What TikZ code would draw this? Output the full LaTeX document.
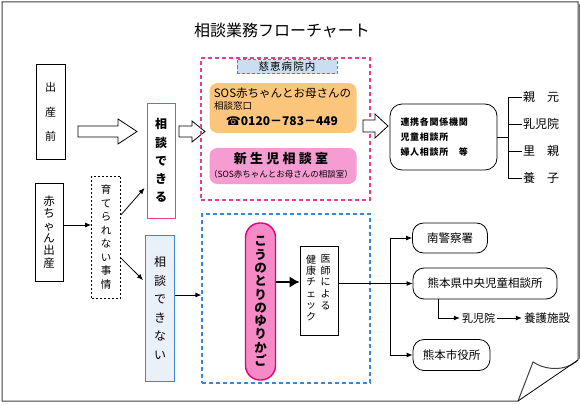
\documentclass[tikz,border=0pt]{standalone}
\usepackage{fontspec}
\setmainfont{Noto Sans CJK JP}
\newfontfamily\telfont{DejaVu Sans}
\usetikzlibrary{arrows.meta}

\definecolor{pinkline}{HTML}{EA3D92}
\definecolor{deeppink}{HTML}{E2007E}
\definecolor{blueline}{HTML}{3A87D6}
\definecolor{bluefill}{HTML}{EAF0F8}
\definecolor{labelfill}{HTML}{C9DEF2}
\definecolor{orangefill}{HTML}{FBC57C}
\definecolor{pinkfill}{HTML}{F59CD3}
\definecolor{capsulefill}{HTML}{F68AC6}

\newcommand{\fsz}[2]{\fontsize{#1}{#2}\selectfont}

\begin{document}
\begin{tikzpicture}[x=1pt,y=-1pt,
  >={Latex[length=6pt,width=5pt]},
  box/.style={draw=black, line width=0.8pt, inner sep=0pt},
  tate/.style={align=center, inner sep=0pt},
  rbox/.style={draw=black, line width=0.8pt, rounded corners=11pt, inner sep=0pt},
  hollow/.style={draw=black, line width=0.8pt, fill=white},
  pinkdash/.style={draw=pinkline, line width=1.2pt, dash pattern=on 4pt off 3pt, inner sep=0pt},
  bluedash/.style={draw=blueline, line width=1.2pt, dash pattern=on 4pt off 3pt, inner sep=0pt}]
\useasboundingbox (0,0) rectangle (580,404);

% page with curled corner
\draw[line width=1pt, draw=black!75] (2,2) -- (578,2) -- (578,360)
  .. controls (565,372) and (545,370) .. (533,362) -- (518,401) -- (2,401) -- cycle;
\draw[line width=0.8pt] (578,360) -- (518,401);
\draw[line width=1pt, draw=black!55] (579.5,4) -- (579.5,359);

\node (title) at (282,30) {\fsz{16}{18}相談業務フローチャート};

% before birth
\node[box, tate, minimum width=29, minimum height=95, font=\fsz{11}{24.5}] (sanzen) at (50.5,112) {出\\産\\前};
\draw[hollow] (78,126) -- (118,126) -- (118,119) -- (137,131.5) -- (118,144) -- (118,137) -- (78,137) -- cycle;
\node[box, tate, draw=pinkline, line width=1pt, minimum width=28, minimum height=115, font=\bfseries\fsz{12}{18.2}] (dekiru) at (161,160.5) {相\\談\\で\\き\\る};
\draw[hollow] (179,126) -- (192,126) -- (192,121) -- (205,131.5) -- (192,142) -- (192,137) -- (179,137) -- cycle;

% jikei hospital
\node[pinkdash, minimum width=169, minimum height=142] (jikei) at (285.5,129) {};
\node[draw=blueline, line width=0.9pt, dash pattern=on 3pt off 2pt, fill=labelfill, minimum width=100, minimum height=14, inner sep=0pt, font=\fsz{10.5}{12}\addfontfeature{LetterSpace=10}] (jikeilabel) at (287,66.5) {慈恵病院内};
\node[fill=orangefill, rounded corners=8pt, minimum width=147, minimum height=50] (sos) at (283,108) {};
\node[inner sep=0pt, font=\fsz{11.5}{14}] (sostitle) at (282.5,93) {SOS赤ちゃんとお母さんの};
\node[inner sep=0pt, anchor=west, font=\fsz{9.5}{11}] (madoguchi) at (214,105.5) {相談窓口};
\node[inner sep=0pt, font=\bfseries\fsz{12}{14}] (tel) at (282,121) {{\telfont\mdseries ☎}0120－783－449};
\node[fill=pinkfill, rounded corners=8pt, minimum width=147, minimum height=36] (shinsei) at (283,166) {};
\node[inner sep=0pt, font=\bfseries\fsz{13}{15}\addfontfeature{LetterSpace=25}] (shinseititle) at (281,158.5) {新生児相談室};
\node[inner sep=0pt, font=\fsz{8.5}{10}] (shinseisub) at (281,174) {（SOS赤ちゃんとお母さんの相談室）};
\draw[hollow] (363,120) -- (375,120) -- (375,114) -- (388,126) -- (375,138) -- (375,132) -- (363,132) -- cycle;

% related agencies
\node[rbox, rounded corners=12pt, minimum width=107, minimum height=66, text width=86, align=left, font=\bfseries\fsz{9}{15}\addfontfeature{LetterSpace=8}] (renkei) at (443.5,137) {連携各関係機関\\児童相談所\\婦人相談所　等};
\foreach \name/\txt/\y in {oya/親　元/97, nyuujiin/乳児院/124, satooya/里　親/151, youshi/養　子/178}
  \node[anchor=west, inner sep=1pt, font=\fsz{12}{14}] (\name) at (522,\y) {\txt};
\coordinate (rbus) at (508,137);
\draw[line width=0.8pt] (renkei.east) -- (rbus |- renkei.east);
\draw[line width=0.8pt] (rbus |- oya.west) -- (rbus |- youshi.west);
\foreach \name in {oya, nyuujiin, satooya, youshi}
  \draw[line width=0.8pt] (rbus |- \name.west) -- (\name.west);

% after birth
\node[box, tate, minimum width=28, minimum height=98, font=\fsz{11.5}{12.3}] (shussan) at (49,232) {赤\\ち\\ゃ\\ん\\出\\産};
\node[box, tate, dash pattern=on 2pt off 2pt, line width=0.7pt, minimum width=29, minimum height=122, font=\fsz{10.5}{13.5}] (jijou) at (106,237) {育\\て\\ら\\れ\\な\\い\\事\\情};
\draw[->, line width=0.8pt] ([yshift=7pt]shussan.east) -- ([yshift=7pt]shussan.east -| jijou.west);
\draw[->, line width=0.8pt] ([yshift=22pt]jijou.east) -- ([shift={(-2pt,-27.5pt)}]dekiru.west);
\node[box, tate, draw=blueline, fill=bluefill, line width=1pt, minimum width=29, minimum height=146, font=\fsz{12}{18.6}] (dekinai) at (160,308) {相\\談\\で\\き\\な\\い};
\draw[->, line width=0.8pt] ([yshift=-21pt]jijou.east) -- ([shift={(-2pt,28pt)}]dekinai.west);
\node[bluedash, minimum width=168, minimum height=169] (kounotori) at (286,298.5) {};
\draw[->, line width=0.8pt] ([yshift=13pt]dekinai.east) -- ([yshift=13pt]dekinai.east -| kounotori.west);

% baby hatch
\node[tate, draw=deeppink, fill=capsulefill, line width=1.4pt, rounded corners=14.5pt, minimum width=30, minimum height=157, font=\bfseries\fsz{12.5}{13.3}] (yurikago) at (260.5,301.5) {こ\\う\\の\\と\\り\\の\\ゆ\\り\\か\\ご};
\node[box, minimum width=38, minimum height=89] (check) at (319,290.5) {};
\node[tate, anchor=north, font=\fsz{10}{11.7}] (ishi) at (325.5,254.5) {医\\師\\に\\よ\\る};
\node[tate, anchor=north, font=\fsz{10}{11.4}] (kenkou) at (311,254.5) {健\\康\\チ\\ェ\\ッ\\ク};
\draw[-{Latex[length=10pt,width=11pt]}, line width=1.3pt] ([yshift=19.5pt]yurikago.east) -- ([yshift=19.5pt]yurikago.east -| check.west);

% destinations
\node[rbox, minimum width=75, minimum height=30, font=\fsz{11.5}{13}] (police) at (450,238) {南警察署};
\node[rbox, minimum width=144, minimum height=31, font=\fsz{11.5}{13}] (jidou) at (485,283.5) {熊本県中央児童相談所};
\node[rbox, minimum width=77, minimum height=31, font=\fsz{11.5}{13}] (shiyakusho) at (451.5,355) {熊本市役所};
\coordinate (bus) at (390,283.5);
\draw[->, line width=0.8pt] (check.east |- jidou.west) -- (jidou.west);
\draw[line width=0.8pt] (bus |- police.west) -- (bus |- shiyakusho.west);
\draw[->, line width=0.8pt] (bus |- police.west) -- (police.west);
\draw[->, line width=0.8pt] (bus |- shiyakusho.west) -- (shiyakusho.west);
\node[inner sep=2pt, font=\fsz{11}{13}] (nyuujiin2) at (478.5,318) {乳児院};
\node[inner sep=2pt, font=\fsz{11.5}{13}] (yougo) at (547,318) {養護施設};
\coordinate (fork) at (438,318);
\draw[->, line width=0.8pt] (fork |- jidou.south) |- (nyuujiin2.west);
\draw[->, line width=0.8pt] (nyuujiin2.east) -- (yougo.west);
\end{tikzpicture}
\end{document}
